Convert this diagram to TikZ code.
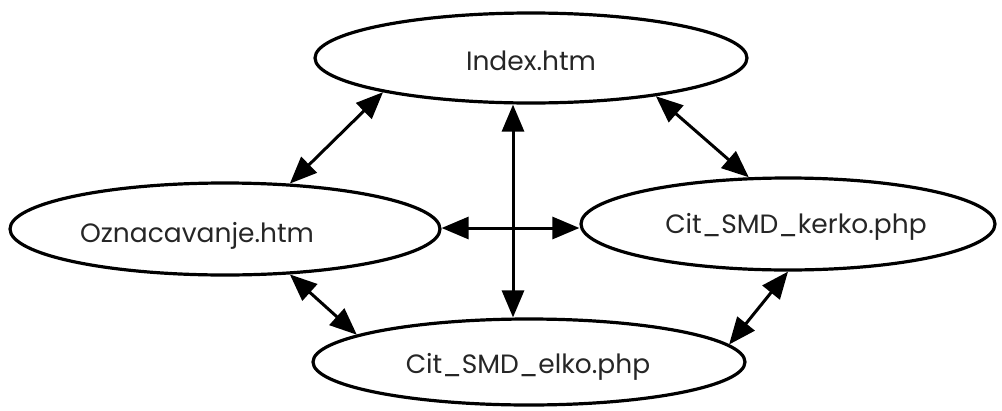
\documentclass[tikz,border=0pt]{standalone}
\usepackage{fontspec}
\setmainfont{Poppins}
\usetikzlibrary{shapes.geometric,arrows.meta}
\begin{document}
\begin{tikzpicture}[x=1pt,y=-1pt,
  page/.style={ellipse, draw=black, line width=3.2pt, inner sep=0pt},
  lbl/.style={anchor=base, inner sep=0pt, font=\fontsize{26.5}{28}\selectfont, text=black!85},
  tip/.style={Triangle[length=27pt,width=22pt]},
  link/.style={line width=3pt, {Triangle[length=27pt,width=22pt]}-{Triangle[length=27pt,width=22pt]}}
]
\useasboundingbox (0,0) rectangle (1002,410);
\node[page, minimum width=432pt, minimum height=90pt] (idx) at (531,58) {};
\node[page, minimum width=430pt, minimum height=92pt] (ozn) at (225,229) {};
\node[page, minimum width=414pt, minimum height=92pt] (ker) at (788,224) {};
\node[page, minimum width=432pt, minimum height=86pt] (elk) at (529,362) {};
\node[lbl] (tidx) at (531,70) {Index.htm};
\node[lbl] (tozn) at (197,242) {Oznacavanje.htm};
\node[lbl] (tker) at (796,233) {Cit\_SMD\_kerko.php};
\node[lbl] (telk) at (528,373) {Cit\_SMD\_elko.php};
\coordinate (c) at (513,228);
\draw[link] (idx.south -| c) -- (elk.north -| c);
\draw[link] (ozn.east |- c) -- (ker.west |- c);
\draw[link] (idx.193.6) -- (ozn.35);
\draw[link] (idx.343.7) -- (ker.130.1);
\draw[link] (ozn.325.1) -- (elk.171.9);
\draw[link] (ker.270) -- (elk.5.7);
\end{tikzpicture}
\end{document}
